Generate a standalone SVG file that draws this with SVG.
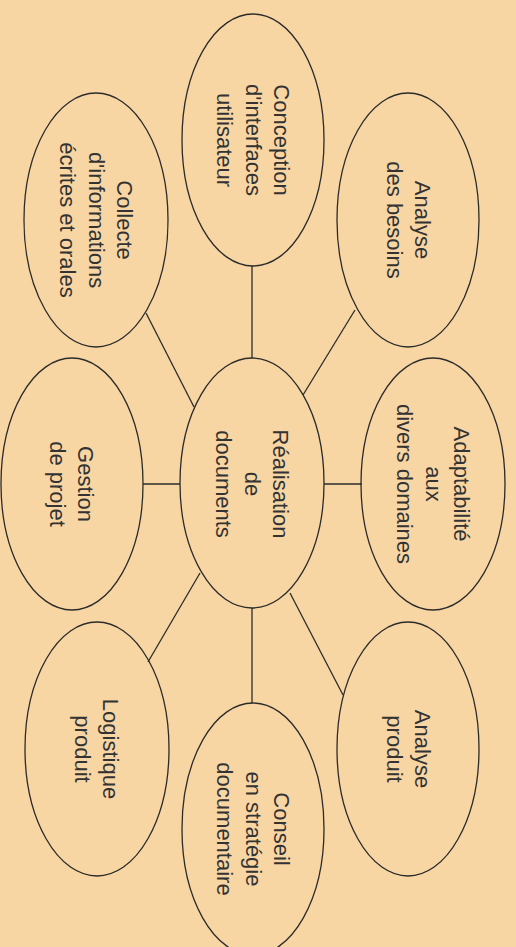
<svg xmlns="http://www.w3.org/2000/svg" width="516" height="947" viewBox="0 0 516 947">
<style>
.n ellipse{fill:none;stroke:#2b2b2b;stroke-width:1.3}
.n text{font-family:"Liberation Sans",Arial,sans-serif;font-size:22px;fill:#333;text-anchor:middle}
#connectors line{stroke:#2b2b2b;stroke-width:1.3}
</style>
<rect width="516" height="947" fill="#f8d6a4"/>
<g id="connectors">
<line x1="252" y1="266" x2="252" y2="358"/>
<line x1="252" y1="608" x2="252" y2="703"/>
<line x1="324" y1="484" x2="362" y2="484"/>
<line x1="143" y1="484" x2="180" y2="484"/>
<line x1="146" y1="313" x2="194" y2="407"/>
<line x1="355" y1="310" x2="303" y2="395"/>
<line x1="200" y1="573" x2="148" y2="662"/>
<line x1="290" y1="593" x2="343" y2="695"/>
</g>
<g id="center" class="n">
<ellipse cx="252" cy="483" rx="72" ry="125"/>
<g transform="translate(252,484) rotate(90)"><text y="-21">Réalisation</text><text y="7.5">de</text><text y="36">documents</text></g>
</g>
<g id="conception" class="n">
<ellipse cx="253" cy="140" rx="71" ry="126"/>
<g transform="translate(253,140) rotate(90)"><text y="-21">Conception</text><text y="7.5">d'interfaces</text><text y="36">utilisateur</text></g>
</g>
<g id="collecte" class="n">
<ellipse cx="96" cy="220" rx="72" ry="127"/>
<g transform="translate(96,220) rotate(90)"><text y="-21">Collecte</text><text y="7.5">d'informations</text><text y="36">écrites et orales</text></g>
</g>
<g id="besoins" class="n">
<ellipse cx="408" cy="220" rx="71" ry="127"/>
<g transform="translate(408,220) rotate(90)"><text y="-7">Analyse</text><text y="21.5">des besoins</text></g>
</g>
<g id="adaptabilite" class="n">
<ellipse cx="433" cy="484" rx="72" ry="126"/>
<g transform="translate(433,484) rotate(90)"><text y="-21">Adaptabilité</text><text y="7.5">aux</text><text y="36">divers domaines</text></g>
</g>
<g id="gestion" class="n">
<ellipse cx="72" cy="484" rx="71" ry="126"/>
<g transform="translate(72,484) rotate(90)"><text y="-6">Gestion</text><text y="22.5">de projet</text></g>
</g>
<g id="logistique" class="n">
<ellipse cx="97" cy="749" rx="72" ry="127"/>
<g transform="translate(97,749) rotate(90)"><text y="-6">Logistique</text><text y="22.5">produit</text></g>
</g>
<g id="conseil" class="n">
<ellipse cx="253" cy="829" rx="71" ry="126"/>
<g transform="translate(253,829) rotate(90)"><text y="-21">Conseil</text><text y="7.5">en stratégie</text><text y="36">documentaire</text></g>
</g>
<g id="analyse-produit" class="n">
<ellipse cx="408" cy="749" rx="71" ry="127"/>
<g transform="translate(408,749) rotate(90)"><text y="-7">Analyse</text><text y="21.5">produit</text></g>
</g>
</svg>
